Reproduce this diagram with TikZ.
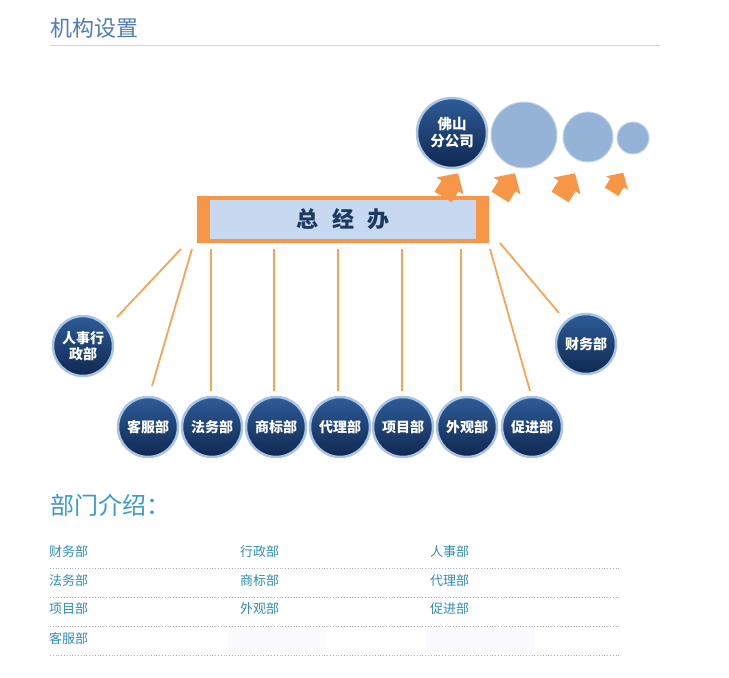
\documentclass[tikz,border=0pt]{standalone}
\usepackage{fontspec}
\setmainfont{Noto Sans CJK SC}
\definecolor{titleblue}{HTML}{4F7CB5}
\definecolor{introblue}{HTML}{3A9AD0}
\definecolor{tabletext}{HTML}{2F8DB8}
\definecolor{orangeA}{HTML}{F79646}
\definecolor{lineorange}{HTML}{F6A455}
\definecolor{boxblue}{HTML}{C6D9F1}
\definecolor{navytop}{HTML}{2E5C99}
\definecolor{navybot}{HTML}{0F2850}
\definecolor{ringblue}{HTML}{A9C3E4}
\definecolor{lightcirc}{HTML}{95B3D7}
\definecolor{textnavy}{HTML}{1F3A60}
\tikzset{
  dept/.style={circle, minimum size=60pt, inner sep=0pt, top color=navytop, bottom color=navybot,
    draw=ringblue, line width=2.5pt, text=white, font=\fontsize{14}{16}\selectfont\bfseries, align=center},
  bubble/.style={circle, inner sep=0pt, fill=lightcirc, draw=ringblue!70, line width=1pt},
  conn/.style={draw=lineorange, line width=1.8pt},
  rowtext/.style={anchor=west, text=tabletext, font=\fontsize{13}{14}\selectfont, inner sep=0pt},
  rowline/.style={draw=gray!60, dotted, line width=0.8pt},
  barrow/.pic={\fill[orangeA] (-13,-10) -- (0,-10) -- (0,-16) -- (15,0) -- (0,16) -- (0,10) -- (-13,10) -- cycle;}
}
\begin{document}
\begin{tikzpicture}[x=1pt,y=-1pt]
\useasboundingbox (0,0) rectangle (729,678);
% title
\node[anchor=west, text=titleblue, font=\fontsize{22}{24}\selectfont, inner sep=0pt] (title) at (50,28) {机构设置};
\draw[draw=gray!35, line width=1pt] (50,45) -- (660,45);

% top bubbles
\node[bubble, minimum size=66pt] (b2) at (524,135) {};
\node[bubble, minimum size=50pt] (b3) at (588,137) {};
\node[bubble, minimum size=32pt] (b4) at (633,138) {};
\node[dept, minimum size=70pt, font=\fontsize{14.5}{17}\selectfont\bfseries] (fs) at (452,133) {佛山\\分公司};

% main box
\fill[orangeA] (197,196) rectangle (489,243);
\fill[boxblue] (210,200) rectangle (476,239);
\node[text=textnavy, font=\fontsize{22}{24}\selectfont\bfseries, inner sep=0pt] (zjb) at (343,219) {总\hspace{0.6em}经\hspace{0.6em}办};

% arrows
\pic[rotate=58] (a1) at (450,186) {barrow};
\pic[rotate=58] (a2) at (507,186) {barrow};
\pic[rotate=58] (a3) at (567,186) {barrow};
\pic[rotate=58, scale=0.8] (a4) at (617,183) {barrow};

% department circles
\node[dept] (rs) at (83,346) {人事行\\政部};
\node[dept] (cw) at (586,344) {财务部};
\node[dept] (kf) at (148,427) {客服部};
\node[dept] (fw) at (212,427) {法务部};
\node[dept] (sb) at (276,427) {商标部};
\node[dept] (dl) at (340,427) {代理部};
\node[dept] (xm) at (403,427) {项目部};
\node[dept] (wg) at (467,427) {外观部};
\node[dept] (cj) at (532,427) {促进部};

% connector end points
\coordinate (s1) at (181,249); \coordinate (e1) at (117,317);
\coordinate (s2) at (192,249); \coordinate (e2) at (152,386);
\coordinate (s3) at (211,249); \coordinate (e3) at (211,391);
\coordinate (s4) at (274,249); \coordinate (e4) at (274,391);
\coordinate (s5) at (338,249); \coordinate (e5) at (338,391);
\coordinate (s6) at (402,249); \coordinate (e6) at (402,391);
\coordinate (s7) at (461,249); \coordinate (e7) at (461,391);
\coordinate (s8) at (490,249); \coordinate (e8) at (530,391);
\coordinate (s9) at (500,243); \coordinate (e9) at (559,313);
\foreach \i in {1,...,9} { \draw[conn] (s\i) -- (e\i); }

% intro
\node[anchor=west, text=introblue, font=\fontsize{24}{26}\selectfont, inner sep=0pt] (intro) at (50,505) {部门介绍：};

\fill[blue!1.5] (228,628) rectangle (325,652);
\fill[blue!1.5] (425,628) rectangle (535,652);

\node[rowtext] (r11) at (49,552) {财务部};
\node[rowtext] (r12) at (240,552) {行政部};
\node[rowtext] (r13) at (430,552) {人事部};
\node[rowtext] (r21) at (49,581) {法务部};
\node[rowtext] (r22) at (240,581) {商标部};
\node[rowtext] (r23) at (430,581) {代理部};
\node[rowtext] (r31) at (49,609) {项目部};
\node[rowtext] (r32) at (240,609) {外观部};
\node[rowtext] (r33) at (430,609) {促进部};
\node[rowtext] (r41) at (49,638) {客服部};

\foreach \y in {568,597,626,655} { \draw[rowline] (50,\y) -- (620,\y); }
\end{tikzpicture}
\end{document}
